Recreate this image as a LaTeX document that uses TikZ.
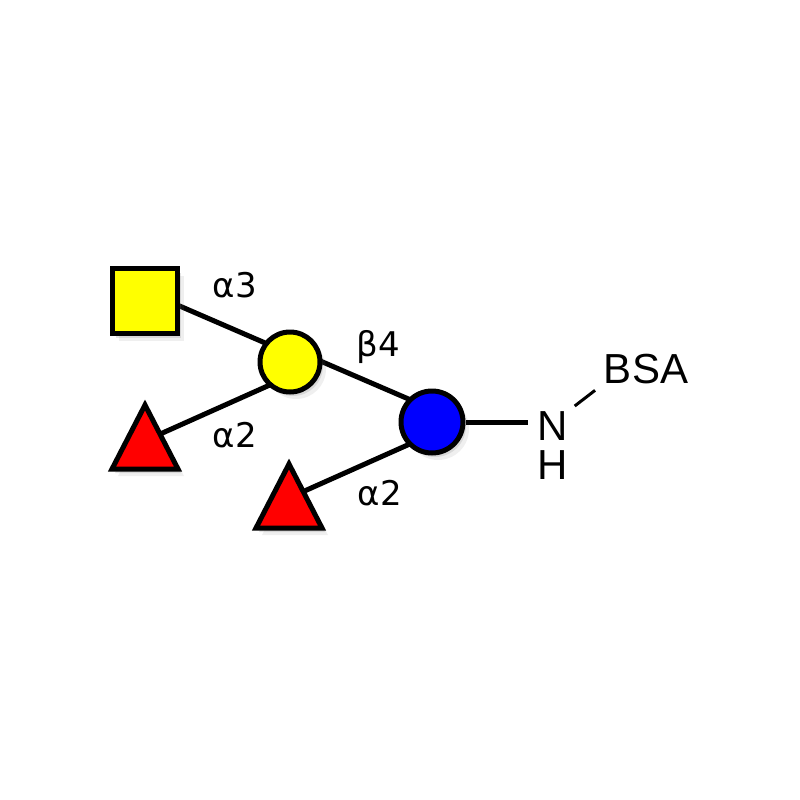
\documentclass[tikz,border=0pt]{standalone}
\usepackage{fontspec}
\setmainfont{Liberation Sans}
\newfontfamily\lblfont{DejaVu Sans}
\usetikzlibrary{shadows,backgrounds}
\definecolor{gyellow}{RGB}{255,255,0}
\definecolor{gblue}{RGB}{0,0,255}
\definecolor{gred}{RGB}{255,0,0}
\tikzset{
  shd/.style={drop shadow={opacity=0.12, shadow xshift=6pt, shadow yshift=-7pt},
              drop shadow={opacity=0.2, shadow xshift=3pt, shadow yshift=-4pt}},
  bond/.style={line width=5pt},
  sugarsq/.style={draw, line width=5pt, fill=gyellow, rectangle, minimum size=65pt, inner sep=0pt, shd},
  sugarci/.style={draw, line width=5pt, circle, minimum size=60pt, inner sep=0pt, shd},
  tri/.style={draw, line width=5pt, fill=gred, line join=miter, shd},
  lbl/.style={font=\lblfont\fontsize{34}{34}\selectfont, anchor=base, inner sep=0pt},
  atom/.style={font=\fontsize{42}{42}\selectfont, inner sep=0pt, anchor=base}
}
\begin{document}
\begin{tikzpicture}[x=1pt,y=-1pt]
\useasboundingbox (0,0) rectangle (800,800);
% bond end points
\coordinate (e1a) at (172,302.7);
\coordinate (e1b) at (268,344.2);
\coordinate (e2a) at (272,384);
\coordinate (e2b) at (158,435);
\coordinate (e3a) at (318,360);
\coordinate (e3b) at (412,400.5);
\coordinate (e4a) at (412,443);
\coordinate (e4b) at (300,493);
\coordinate (nl) at (528,422);
% sugars
\node[sugarsq] (sq) at (145,301) {};
\node[sugarci, fill=gyellow] (gal) at (290,362) {};
\node[sugarci, fill=gblue, minimum size=62pt] (glc) at (432,422) {};
\node[atom] (N) at (553,440) {N};
\node[atom] (H) at (553,479) {H};
\node[atom] (BSA) at (646,383) {BSA};
% edges behind
\begin{scope}[on background layer]
\fill[white] (0,0) rectangle (800,800);
\draw[bond] (e1a) -- (e1b);
\draw[bond] (e2a) -- (e2b);
\draw[bond] (e3a) -- (e3b);
\draw[bond] (e4a) -- (e4b);
\end{scope}
\draw[bond] (glc.east) -- (nl);
\draw[line width=3pt, shorten <=8pt, shorten >=11pt] (N.north east) -- (BSA.south west);
% triangles
\draw[tri] (145,405) -- (178,469) -- (112,469) -- cycle;
\draw[tri] (289,464) -- (322,528) -- (256,528) -- cycle;
% labels
\node[lbl] (l1) at (235,297) {α3};
\node[lbl] (l2) at (235,447) {α2};
\node[lbl] (l3) at (378,356) {β4};
\node[lbl] (l4) at (380,505) {α2};
\end{tikzpicture}
\end{document}
